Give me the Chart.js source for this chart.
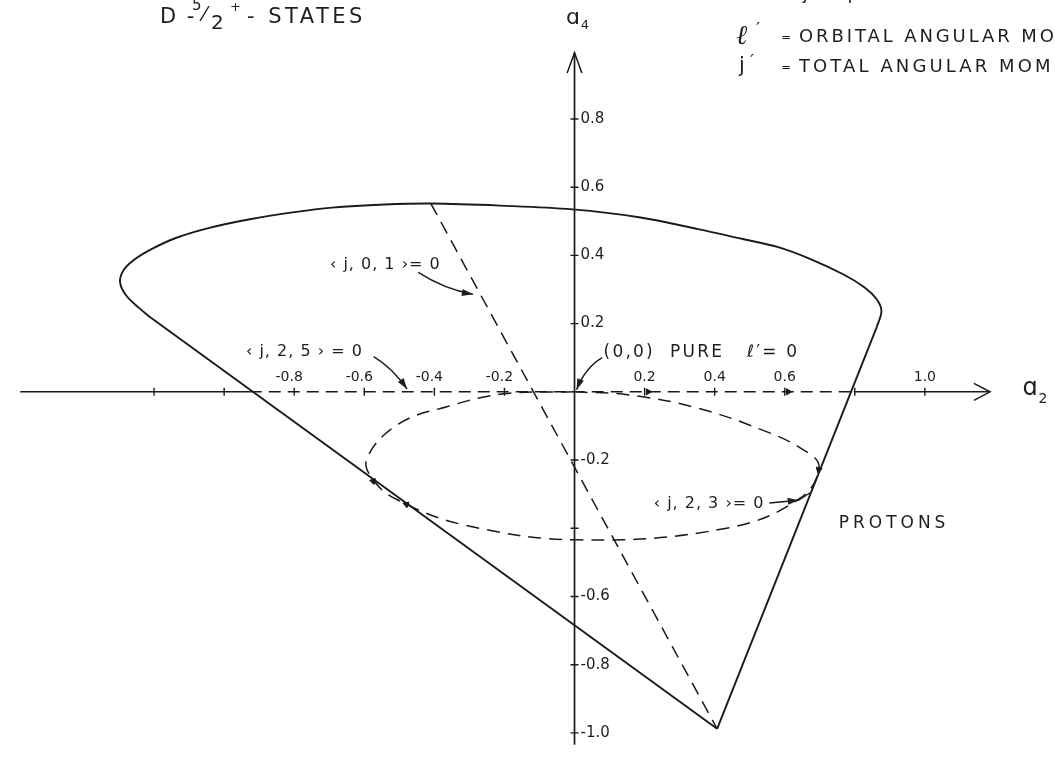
<!DOCTYPE html>
<html>
<head>
<meta charset="utf-8">
<script src="https://cdn.jsdelivr.net/npm/chart.js@4.4.1/dist/chart.umd.min.js"></script>
<style>
  html, body { margin: 0; padding: 0; background: #fff; }
  canvas { display: block; }
</style>
</head>
<body>
<canvas id="chart" width="1055" height="759"></canvas>
<script>
// upper rim of the allowed (a2, a4) region, left shoulder -> right shoulder
const rimCurve = [
  [-1.209, 0.217], [-1.243, 0.246], [-1.280, 0.283], [-1.297, 0.321], [-1.288, 0.355],
  [-1.257, 0.387], [-1.206, 0.419], [-1.138, 0.451], [-1.045, 0.480], [-0.927, 0.506],
  [-0.805, 0.526], [-0.692, 0.540], [-0.542, 0.549], [-0.410, 0.552], [-0.212, 0.546],
  [-0.006, 0.535], [0.184, 0.512], [0.353, 0.477], [0.480, 0.448], [0.579, 0.425],
  [0.672, 0.390], [0.768, 0.344], [0.828, 0.306], [0.862, 0.272], [0.876, 0.237],
  [0.862, 0.188]
];
const apex = [0.407, -0.988];
const leftEdge = [[-1.209, 0.217], apex];
const rightEdge = [apex, [0.862, 0.188]];

// <j,0,1> = 0 line
const line01 = [[-0.410, 0.552], apex];

// <j,2,3> = 0 curve (starts and ends at the origin)
const curve23 = [
  [0, 0], [0.155, -0.009], [0.345, -0.046], [0.531, -0.110], [0.650, -0.168],
  [0.698, -0.220], [0.644, -0.312], [0.438, -0.399], [0.014, -0.434], [-0.316, -0.390],
  [-0.503, -0.318], [-0.571, -0.263], [-0.593, -0.197], [-0.503, -0.095], [-0.362, -0.043],
  [-0.203, -0.006], [0, 0]
];

// a2 axis: solid outside the region, dashed inside
const a2Left = [[-1.582, 0], [-0.927, 0]];
const a2Inside = [[-0.927, 0], [0.797, 0]];
const a2Right = [[0.797, 0], [1.186, 0]];
const a4Axis = [[0, -1.035], [0, 0.994]];

const xTicks = [-1.2, -1.0, -0.8, -0.6, -0.4, -0.2, 0.2, 0.4, 0.6, 0.8, 1.0];
const xTickLabels = ['', '', '-0.8', '-0.6', '-0.4', '-0.2', '0.2', '0.4', '0.6', '', '1.0'];
const yTicks = [0.8, 0.6, 0.4, 0.2, -0.2, -0.4, -0.6, -0.8, -1.0];
const yTickLabels = ['0.8', '0.6', '0.4', '0.2', '-0.2', '', '-0.6', '-0.8', '-1.0'];

const INK = '#1a1a1a';
const FONT = '"DejaVu Sans", sans-serif';

const pts = arr => arr.map(([x, y]) => ({ x, y }));

function path(points, opts = {}) {
  return Object.assign({
    data: pts(points),
    showLine: true,
    pointRadius: 0,
    borderColor: INK,
    borderWidth: 1.9,
    tension: 0,
    fill: false
  }, opts);
}

// small direction markers sitting on the curves
const markers = [
  { p: [0.21, 0], rot: 90 },
  { p: [0.61, 0], rot: 90 },
  { p: [-0.575, -0.262], rot: 165 },
  { p: [-0.48, -0.33], rot: 290 },
  { p: [0.697, -0.228], rot: 195 }
];

const datasets = [
  path(a2Left, { borderWidth: 1.5 }),
  path(a2Inside, { borderWidth: 1.5, borderDash: [12, 7] }),
  path(a2Right, { borderWidth: 1.5 }),
  path([[1.140, 0.025], [1.186, 0], [1.140, -0.025]], { borderWidth: 1.5 }),
  path(a4Axis, { borderWidth: 1.7 }),
  path([[-0.021, 0.935], [0, 0.994], [0.021, 0.935]], { borderWidth: 1.5 }),
  path(rimCurve, { tension: 0.35 }),
  path(leftEdge),
  path(rightEdge),
  path(line01, { borderWidth: 1.5, borderDash: [13, 8] }),
  path(curve23, { borderWidth: 1.5, borderDash: [13, 8], tension: 0.4 }),
  {
    data: xTicks.map(v => ({ x: v, y: 0 })),
    pointStyle: 'line', rotation: 90, pointRadius: 4,
    pointBorderColor: INK, pointBorderWidth: 1.4, showLine: false
  },
  {
    data: yTicks.map(v => ({ x: 0, y: v })),
    pointStyle: 'line', pointRadius: 4,
    pointBorderColor: INK, pointBorderWidth: 1.4, showLine: false
  },
  {
    data: markers.map(m => ({ x: m.p[0], y: m.p[1] })),
    pointStyle: 'triangle', rotation: markers.map(m => m.rot), pointRadius: 3.5,
    pointBackgroundColor: INK, pointBorderColor: INK, pointBorderWidth: 1, showLine: false
  }
];

// labels with leader arrows, positions in (a2, a4)
const notes = [
  { text: '‹ j, 0, 1 ›= 0', at: [-0.540, 0.373], align: 'center', size: 16, spacing: 1,
    arrow: [[-0.446, 0.350], [-0.370, 0.300], [-0.290, 0.286]] },
  { text: '‹ j, 2, 5 › = 0', at: [-0.771, 0.116], align: 'center', size: 16, spacing: 1,
    arrow: [[-0.573, 0.103], [-0.520, 0.070], [-0.478, 0.008]] },
  { text: '(0,0)  PURE   ℓ′= 0', at: [0.083, 0.116], align: 'left', size: 17, spacing: 2.2,
    arrow: [[0.079, 0.100], [0.030, 0.070], [0.006, 0.006]] },
  { text: '‹ j, 2, 3 ›= 0', at: [0.384, -0.327], align: 'center', size: 16, spacing: 1,
    arrow: [[0.556, -0.326], [0.600, -0.322], [0.640, -0.318]] },
  { text: 'PROTONS', at: [0.912, -0.386], align: 'center', size: 17, spacing: 4 }
];

function arrowHead(ctx, x, y, ang, len, half) {
  ctx.beginPath();
  ctx.moveTo(x, y);
  ctx.lineTo(x - len * Math.cos(ang) + half * Math.sin(ang), y - len * Math.sin(ang) - half * Math.cos(ang));
  ctx.lineTo(x - len * Math.cos(ang) - half * Math.sin(ang), y - len * Math.sin(ang) + half * Math.cos(ang));
  ctx.closePath();
  ctx.fill();
}

function label(ctx, text, x, y, size, opts = {}) {
  ctx.font = `${opts.style || 'normal'} ${size}px ${opts.family || FONT}`;
  ctx.letterSpacing = (opts.spacing || 0) + 'px';
  ctx.textAlign = opts.align || 'left';
  ctx.textBaseline = 'middle';
  ctx.fillText(text, x, y);
}

const textLayer = {
  id: 'textLayer',
  afterDatasetsDraw(chart) {
    const { ctx, scales: { x, y } } = chart;
    const px = v => x.getPixelForValue(v);
    const py = v => y.getPixelForValue(v);
    ctx.save();
    ctx.fillStyle = '#1e1e1e';
    ctx.strokeStyle = INK;

    // tick labels
    xTicks.forEach((v, i) => {
      if (!xTickLabels[i]) return;
      const shift = v < 0 ? -5 : 0;
      label(ctx, xTickLabels[i], px(v) + shift, py(0) - 14, 14, { align: 'center' });
    });
    yTicks.forEach((v, i) => {
      if (!yTickLabels[i]) return;
      label(ctx, yTickLabels[i], px(0) + 6, py(v), 15);
    });

    // axis names
    label(ctx, 'ɑ', 1030, 389, 24, { align: 'center' });
    label(ctx, '2', 1043, 399, 14, { align: 'center' });
    label(ctx, 'ɑ', 573, 18, 22, { align: 'center' });
    label(ctx, '4', 585, 26, 13, { align: 'center' });

    // notes and leader arrows
    notes.forEach(n => {
      label(ctx, n.text, px(n.at[0]), py(n.at[1]), n.size, { align: n.align, spacing: n.spacing });
      if (!n.arrow) return;
      const [a, c, b] = n.arrow.map(([u, w]) => [px(u), py(w)]);
      ctx.lineWidth = 1.4;
      ctx.beginPath();
      ctx.moveTo(a[0], a[1]);
      ctx.quadraticCurveTo(c[0], c[1], b[0], b[1]);
      ctx.stroke();
      arrowHead(ctx, b[0], b[1], Math.atan2(b[1] - c[1], b[0] - c[0]), 11, 3.5);
    });
    // short link from the <j,2,3> arrow onto the curve
    ctx.beginPath();
    ctx.moveTo(px(0.640), py(-0.318));
    ctx.lineTo(px(0.672), py(-0.296));
    ctx.stroke();

    // heading: D - 5/2 + - STATES
    label(ctx, 'D -', 160, 18, 21, { spacing: 2 });
    label(ctx, '5', 192, 6, 15);
    ctx.lineWidth = 1.4;
    ctx.beginPath();
    ctx.moveTo(200, 21);
    ctx.lineTo(209, 6);
    ctx.stroke();
    label(ctx, '2', 211, 24, 20);
    label(ctx, '+', 230, 8, 13);
    label(ctx, '- STATES', 247, 18, 21, { spacing: 3.5 });

    // legend of primed quantities (runs off the right edge)
    label(ctx, 'S′ =  j - spin', 740, -6, 18, { spacing: 2.5 });
    label(ctx, 'ℓ', 736, 37, 27, { family: '"DejaVu Serif", serif', style: 'italic' });
    label(ctx, '′', 756, 30, 18);
    label(ctx, '=', 781, 38, 12);
    label(ctx, 'ORBITAL ANGULAR MOMENTUM', 799, 37, 18, { spacing: 2.9 });
    label(ctx, 'j', 739, 67, 21);
    label(ctx, '′', 750, 62, 18);
    label(ctx, '=', 781, 68, 12);
    label(ctx, 'TOTAL ANGULAR MOMENTUM', 799, 67, 18, { spacing: 3.1 });

    ctx.restore();
  }
};

new Chart(document.getElementById('chart'), {
  type: 'scatter',
  data: { datasets },
  options: {
    responsive: false,
    animation: false,
    devicePixelRatio: 1,
    layout: { padding: 0 },
    scales: {
      x: { type: 'linear', min: -575 / 354, max: 480 / 354, display: false },
      y: { type: 'linear', min: -367 / 346, max: 392 / 346, display: false }
    },
    plugins: {
      legend: { display: false },
      tooltip: { enabled: false }
    }
  },
  plugins: [textLayer]
});
</script>
</body>
</html>
